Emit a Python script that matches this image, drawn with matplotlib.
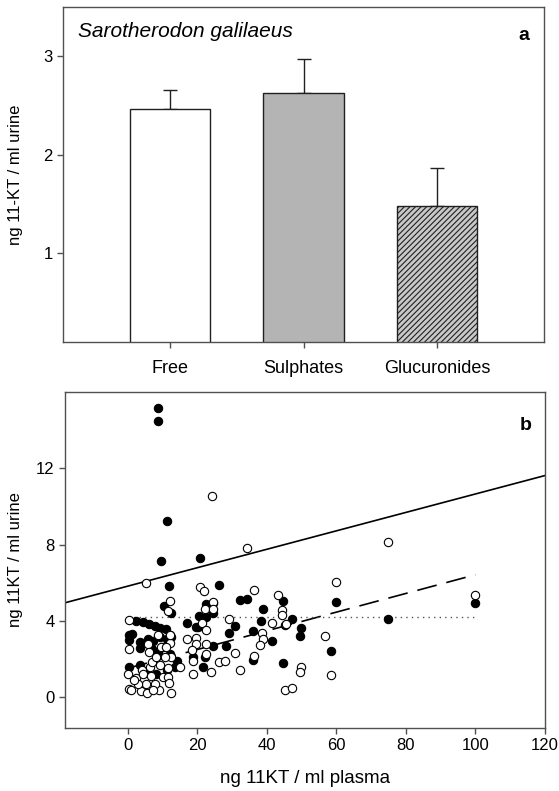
import numpy as np
import matplotlib
matplotlib.use('Agg')
import matplotlib.pyplot as plt

plt.rcParams['font.family'] = ['Liberation Sans', 'DejaVu Sans']
plt.rcParams['hatch.color'] = '#3a3a3a'
plt.rcParams['hatch.linewidth'] = 0.8

# panel a: 11-KT conjugates in urine
categories = ['Free', 'Sulphates', 'Glucuronides']
bar_means = [2.47, 2.63, 1.48]
bar_errs = [0.19, 0.34, 0.39]

# panel b: urine vs plasma 11KT, two groups
filled_x = [8.6, 8.8, 11.4, 9.6, 20.7, 11.8, 26.4, 32.2, 34.4, 44.7, 59.9, 99.9,
            74.8, 38.9, 47.3, 38.3, 45.3, 49.9, 49.6, 58.4, 44.7, 41.5, 36.1, 36.1,
            29.1, 30.8, 28.4, 24.5, 21.8, 22.3, 20.4, 20.2, 22.6, 24.5, 17.1, 18.8,
            12.5, 10.6, 22.5, 24.6, 19.8,
            2.4, 4.5, 6.2, 7.8, 9.3, 11.0, 12.2, 0.5, 1.4, 0.4, 3.5, 3.5, 5.9, 7.4,
            9.3, 11.2, 12.6, 6.9, 8.8, 10.2, 12.2, 0.5, 3.5, 5.3, 8.3, 11.2, 13.6, 14.1]
filled_y = [15.17, 14.47, 9.23, 7.17, 7.29, 5.83, 5.88, 5.10, 5.17, 5.06, 5.01, 4.97,
            4.12, 4.64, 4.10, 4.00, 3.81, 3.63, 3.22, 2.43, 1.81, 2.96, 3.48, 1.98,
            3.37, 3.77, 2.71, 2.70, 1.60, 2.12, 4.28, 3.69, 4.90, 4.45, 3.90, 2.12,
            4.43, 4.77, 4.20, 4.93, 3.68,
            4.03, 3.98, 3.86, 3.72, 3.65, 3.58, 3.29, 3.29, 3.34, 3.03, 2.90, 2.60, 3.08, 2.96,
            3.17, 3.08, 3.17, 2.56, 2.38, 2.64, 2.30, 1.60, 1.69, 1.34, 1.25, 1.43, 1.60, 1.91]

open_x = [5.3, 24.3, 34.4, 74.8, 59.9, 99.9, 20.7, 22.0, 36.3, 12.2, 11.5, 22.2,
          24.5, 24.5, 43.3, 44.5, 44.5, 29.1, 21.5, 22.4, 17.1, 19.8, 19.6, 18.4,
          22.4, 22.4, 18.7, 18.8, 23.9, 26.2, 28.1, 30.8, 32.4, 36.3, 38.5, 38.9,
          38.2, 41.5, 45.4, 49.9, 49.5, 45.3, 47.4, 56.7, 58.4, 12.4, 15.0,
          0.5, 0.4, 0.2, 0.4, 1.1, 2.4, 4.0, 4.4, 3.8, 5.6, 5.3, 6.4, 6.9, 5.9, 6.2,
          8.6, 9.7, 10.7, 9.3, 10.2, 11.7, 12.4, 8.9, 7.8, 11.7, 12.2, 12.2, 6.6,
          3.1, 12.0, 11.0, 8.1, 1.8, 7.2]
open_y = [5.98, 10.56, 7.83, 8.16, 6.07, 5.39, 5.81, 5.60, 5.63, 5.08, 4.52, 4.64,
          5.00, 4.64, 5.37, 4.59, 4.33, 4.10, 3.91, 3.51, 3.04, 3.11, 2.82, 2.47,
          2.78, 2.30, 1.91, 1.25, 1.34, 1.86, 1.91, 2.33, 1.46, 2.17, 3.37, 3.08,
          2.73, 3.90, 3.86, 1.60, 1.34, 0.38, 0.52, 3.20, 1.17, 2.12, 1.60,
          4.07, 2.56, 1.22, 0.42, 0.38, 1.04, 1.43, 1.25, 0.33, 0.21, 0.73, 1.60, 1.86, 2.82, 2.38,
          3.29, 2.64, 2.12, 1.69, 1.08, 1.08, 0.26, 0.38, 0.73, 1.57, 2.85, 3.25, 1.11,
          0.73, 0.77, 2.64, 2.12, 0.90, 0.40]

# fitted lines (intercept, slope)
solid_fit = (5.83, 0.0483)
dashed_fit = (1.53, 0.049)
dotted_level = 4.24

fig = plt.figure(figsize=(5.59, 7.91), dpi=100)
edge = '#505050'

# ---- panel a ----
ax1 = fig.add_axes([0.1127, 0.5676, 0.8605, 0.4235])
pos = np.arange(len(categories))
bars = ax1.bar(pos, bar_means, width=0.6, color=['white', '#b4b4b4', '#c8c8c8'],
               edgecolor='#202020', linewidth=1.0, zorder=2)
bars[2].set_hatch('//////')
ax1.errorbar(pos, bar_means, yerr=[np.zeros(3), bar_errs], fmt='none',
             ecolor='#202020', elinewidth=1.0, capsize=5, capthick=1.0, zorder=1)
ax1.set_xlim(-0.8, 2.8)
ax1.set_ylim(0.1, 3.5)
ax1.set_xticks(pos)
ax1.set_xticklabels(categories, fontsize=13)
ax1.tick_params(axis='x', pad=9)
ax1.set_yticks([1, 2, 3])
ax1.set_yticklabels(['1', '2', '3'], fontsize=12)
ax1.set_ylabel('ng 11-KT / ml urine', fontsize=12)
ax1.yaxis.set_label_coords(-0.083, 0.5)
ax1.text(0.031, 0.955, 'Sarotherodon galilaeus', transform=ax1.transAxes,
         fontsize=15, style='italic', va='top', ha='left')
ax1.text(0.969, 0.94, 'a', transform=ax1.transAxes, fontsize=14,
         fontweight='bold', va='top', ha='right')

# ---- panel b ----
ax2 = fig.add_axes([0.1163, 0.0796, 0.8587, 0.4248])
ax2.scatter(filled_x, filled_y, s=36, c='black', edgecolors='black',
            linewidths=0.8, zorder=3)
ax2.scatter(open_x, open_y, s=36, c='white', edgecolors='black',
            linewidths=0.8, zorder=4)
xs = np.array([-18, 120])
ax2.plot(xs, solid_fit[0] + solid_fit[1] * xs, color='black', lw=1.2, zorder=2)
xd = np.array([0, 100])
ax2.plot(xd, dashed_fit[0] + dashed_fit[1] * xd, color='black', lw=1.2,
         dashes=(12, 6), zorder=2)
ax2.plot(xd, [dotted_level, dotted_level], color='#555555', lw=1.0,
         dashes=(1, 3), zorder=2)
ax2.set_xlim(-18, 120)
ax2.set_ylim(-1.6, 16)
ax2.set_xticks([0, 20, 40, 60, 80, 100, 120])
ax2.set_yticks([0, 4, 8, 12])
ax2.tick_params(labelsize=12)
ax2.set_xlabel('ng 11KT / ml plasma', fontsize=13.5, labelpad=12)
ax2.set_ylabel('ng 11KT / ml urine', fontsize=12)
ax2.yaxis.set_label_coords(-0.087, 0.5)
ax2.text(0.973, 0.925, 'b', transform=ax2.transAxes, fontsize=14,
         fontweight='bold', va='top', ha='right')

for ax in (ax1, ax2):
    for sp in ax.spines.values():
        sp.set_color(edge)
        sp.set_linewidth(1.0)
    ax.tick_params(direction='out', length=4, width=1.0, color=edge,
                   top=False, right=False)

fig.savefig('out.png', dpi=100)
